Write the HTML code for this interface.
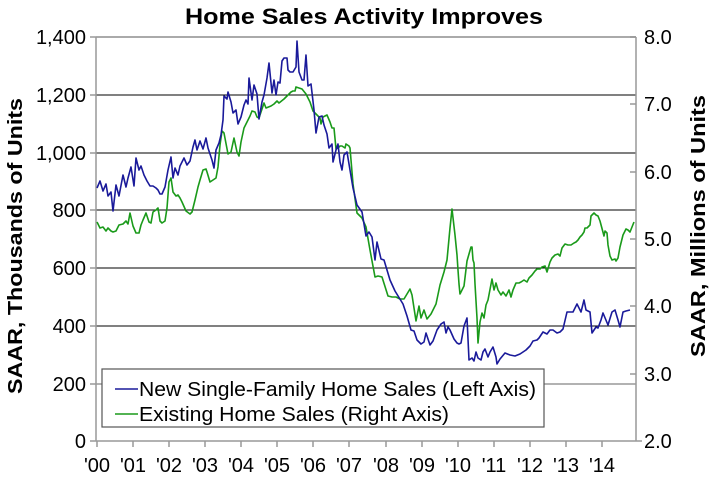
<!DOCTYPE html>
<html><head><meta charset="utf-8"><style>
html,body{margin:0;padding:0;background:#fff;}
svg{display:block;font-family:"Liberation Sans",Arial,sans-serif;}
</style></head><body>
<svg width="711" height="479" viewBox="0 0 711 479" xmlns="http://www.w3.org/2000/svg">
<rect width="711" height="479" fill="#fff"/>
<text x="364" y="24" text-anchor="middle" font-size="22" font-weight="bold" fill="#000" textLength="358" lengthAdjust="spacingAndGlyphs">Home Sales Activity Improves</text>
<line x1="96" y1="37" x2="636" y2="37" stroke="#aaa" stroke-width="2"/>
<line x1="96" y1="95" x2="636" y2="95" stroke="#000" stroke-width="1"/>
<line x1="96" y1="153" x2="636" y2="153" stroke="#555" stroke-width="1.5"/>
<line x1="96" y1="210" x2="636" y2="210" stroke="#000" stroke-width="1"/>
<line x1="96" y1="268" x2="636" y2="268" stroke="#000" stroke-width="1"/>
<line x1="96" y1="326" x2="636" y2="326" stroke="#000" stroke-width="1"/>
<line x1="96" y1="384" x2="636" y2="384" stroke="#999" stroke-width="1.5"/>
<line x1="96" y1="37" x2="96" y2="441" stroke="#999" stroke-width="1.5"/>
<line x1="636" y1="37" x2="636" y2="441" stroke="#999" stroke-width="1.5"/>
<line x1="90" y1="441" x2="642" y2="441" stroke="#999" stroke-width="1.5"/>
<g stroke="#999" stroke-width="1.5">
<line x1="90" y1="37" x2="96" y2="37"/><line x1="90" y1="95" x2="96" y2="95"/><line x1="90" y1="153" x2="96" y2="153"/><line x1="90" y1="210" x2="96" y2="210"/><line x1="90" y1="268" x2="96" y2="268"/><line x1="90" y1="326" x2="96" y2="326"/><line x1="90" y1="384" x2="96" y2="384"/>
<line x1="630" y1="37" x2="636" y2="37"/><line x1="630" y1="104" x2="636" y2="104"/><line x1="630" y1="172" x2="636" y2="172"/><line x1="630" y1="239" x2="636" y2="239"/><line x1="630" y1="306" x2="636" y2="306"/><line x1="630" y1="374" x2="636" y2="374"/>
<line x1="97" y1="441" x2="97" y2="447"/><line x1="133" y1="441" x2="133" y2="447"/><line x1="169" y1="441" x2="169" y2="447"/><line x1="205" y1="441" x2="205" y2="447"/><line x1="241" y1="441" x2="241" y2="447"/><line x1="277" y1="441" x2="277" y2="447"/><line x1="313" y1="441" x2="313" y2="447"/><line x1="349" y1="441" x2="349" y2="447"/><line x1="386" y1="441" x2="386" y2="447"/><line x1="422" y1="441" x2="422" y2="447"/><line x1="458" y1="441" x2="458" y2="447"/><line x1="494" y1="441" x2="494" y2="447"/><line x1="530" y1="441" x2="530" y2="447"/><line x1="566" y1="441" x2="566" y2="447"/><line x1="602" y1="441" x2="602" y2="447"/>
</g>
<g font-size="20" fill="#000" text-anchor="end">
<text x="86" y="44">1,400</text><text x="86" y="102">1,200</text><text x="86" y="160">1,000</text><text x="86" y="217">800</text><text x="86" y="275">600</text><text x="86" y="333">400</text><text x="86" y="391">200</text><text x="86" y="448">0</text>
</g>
<g font-size="20" fill="#000">
<text x="644" y="44">8.0</text><text x="644" y="111">7.0</text><text x="644" y="179">6.0</text><text x="644" y="246">5.0</text><text x="644" y="313">4.0</text><text x="644" y="381">3.0</text><text x="644" y="448">2.0</text>
</g>
<g font-size="20" fill="#000" text-anchor="middle">
<text x="97" y="472">'00</text><text x="133" y="472">'01</text><text x="169" y="472">'02</text><text x="205" y="472">'03</text><text x="241" y="472">'04</text><text x="277" y="472">'05</text><text x="313" y="472">'06</text><text x="349" y="472">'07</text><text x="386" y="472">'08</text><text x="422" y="472">'09</text><text x="458" y="472">'10</text><text x="494" y="472">'11</text><text x="530" y="472">'12</text><text x="566" y="472">'13</text><text x="602" y="472">'14</text>
</g>
<text transform="translate(22,246) rotate(-90)" text-anchor="middle" font-size="20" font-weight="bold" textLength="296" lengthAdjust="spacingAndGlyphs">SAAR, Thousands of Units</text>
<text transform="translate(705,226) rotate(-90)" text-anchor="middle" font-size="20" font-weight="bold" textLength="262" lengthAdjust="spacingAndGlyphs">SAAR, Millions of Units</text>
<polyline fill="none" stroke="#1a9a1a" stroke-width="1.6" stroke-linejoin="round" points="97,222 100,228 103,227 106,231 108,228 111,231 113,232 116,231 119,225 123,224 126,221 128,224 130,213 133,226 136,233 139,233 141,225 143,220 146,213 149,222 151,223 153,212 156,210 158,208 160,221 162,223 165,221 167,208 169,182 171,178 173,192 176,196 178,195 180,198 182,202 186,211 190,214 192,212 195,200 198,187 200,180 203,170 206,169 207,172 210,182 213,180 216,178 218,167 220,145 222,131 224,133 228,154 231,152 234,138 237,152 239,156 241,142 244,128 247,122 250,116 252,111 255,112 257,117 259,118 264,103 266,108 271,106 274,104 277,101 279,103 284,99 287,96 291,92 293,91 295,91 296,87 302,89 306,94 310,102 313,111 316,114 318,116 320,118 321,124 323,117 327,115 330,122 332,128 334,128 336,149 338,148 340,146 342,146 345,148 346,144 349,146 350,148 351,160 353,184 357,213 362,218 366,227 370,250 375,277 378,276 382,277 388,296 392,297 396,297 400,299 404,299 410,289 412,295 416,321 419,306 421,318 424,310 427,319 431,314 436,304 440,285 444,272 447,260 450,228 452,209 455,235 457,255 458,270 459,284 460,294 464,286 467,261 469,254 471,247 472,247 473,260 474,263 475,284 477,318 478,343 480,322 482,313 484,318 486,305 488,300 492,279 494,290 496,283 498,290 501,295 503,292 506,296 509,290 511,297 513,290 516,283 519,283 521,282 524,280 527,282 529,278 532,275 535,271 537,269 540,269 542,267 545,266 547,272 550,262 552,258 555,255 558,254 560,256 562,248 565,244 568,245 571,245 574,243 576,242 578,240 580,237 582,235 584,232 585,228 587,228 590,225 591,216 594,213 596,215 598,216 600,221 604,236 605,231 607,233 608,245 610,256 612,260 615,259 616,261 618,258 620,247 623,235 626,229 628,230 630,232 634,222"/>
<polyline fill="none" stroke="#1a1a9a" stroke-width="1.6" stroke-linejoin="round" points="97,188 100,181 103,191 106,184 108,196 111,192 113,211 116,185 119,196 123,175 126,187 128,178 131,167 134,186 136,158 139,170 141,166 144,175 147,181 150,186 153,186 156,188 158,190 160,194 162,194 165,187 168,170 171,157 173,178 175,168 178,175 180,166 183,160 184,158 187,165 190,161 193,147 195,140 197,150 200,141 203,149 206,138 208,148 212,160 214,168 216,150 219,143 221,135 223,120 224,96 227,99 228,92 231,102 233,113 236,110 238,124 241,117 244,105 246,100 248,104 249,78 252,100 254,85 257,94 259,119 262,102 264,95 267,78 269,63 272,93 274,80 276,95 278,82 280,83 282,61 284,58 287,58 288,70 290,72 293,72 296,67 297,41 299,72 302,80 304,80 306,55 308,86 311,84 314,110 316,133 319,117 322,116 324,125 327,134 329,148 332,144 333,162 336,150 338,144 340,162 342,170 344,155 347,152 350,170 353,188 357,205 362,212 366,236 369,232 372,237 375,260 377,242 381,259 384,260 390,280 395,291 403,304 407,316 411,330 414,331 417,340 421,344 424,342 426,333 430,345 433,341 437,330 441,324 444,322 446,333 448,327 450,330 454,339 457,343 459,344 461,343 464,326 467,318 469,360 472,358 474,361 476,352 478,358 481,360 483,352 485,349 488,357 490,352 493,347 496,357 497,364 500,359 505,353 510,355 515,356 520,354 526,350 530,346 533,341 537,340 539,338 543,332 547,334 550,330 553,330 557,333 560,332 563,329 567,312 573,312 577,304 581,312 584,300 586,310 590,312 592,333 596,327 598,328 601,320 603,313 608,325 612,312 615,310 618,320 620,327 623,312 626,311 630,310"/>
<rect x="102" y="369" width="442" height="58" fill="#fff" stroke="#555" stroke-width="1.2"/>
<line x1="115" y1="389" x2="138" y2="389" stroke="#1a1a9a" stroke-width="1.6"/>
<line x1="115" y1="414" x2="138" y2="414" stroke="#1a9a1a" stroke-width="1.6"/>
<text x="139" y="396" font-size="20" fill="#000" textLength="397" lengthAdjust="spacingAndGlyphs">New Single-Family Home Sales (Left Axis)</text>
<text x="139" y="421" font-size="20" fill="#000" textLength="310" lengthAdjust="spacingAndGlyphs">Existing Home Sales (Right Axis)</text>
</svg>
</body></html>
